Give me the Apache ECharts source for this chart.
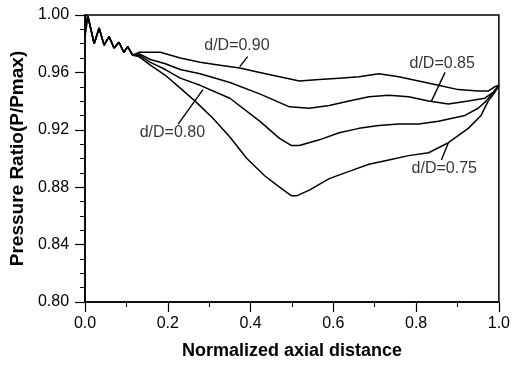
<!DOCTYPE html>
<html>
<head>
<meta charset="utf-8">
<script src="https://cdn.jsdelivr.net/npm/echarts@6/dist/echarts.min.js"></script>
<style>
  html, body { margin: 0; padding: 0; background: #fff; }
  #chart { width: 513px; height: 365px; }
</style>
</head>
<body>
<div id="chart"></div>
<script>
const FONT = "'Liberation Sans', Arial, sans-serif";

// shared saw-tooth at the inlet, x = 0.007 .. 0.115
const zigzag = [
  [0.007, 0.999], [0.022, 0.980], [0.034, 0.991], [0.046, 0.979], [0.058, 0.985],
  [0.070, 0.977], [0.082, 0.981], [0.094, 0.974], [0.103, 0.978], [0.115, 0.972]
];

const curve90 = [
  [0.0, 1.0], ...zigzag,
  [0.13, 0.974], [0.182, 0.974], [0.23, 0.970], [0.278, 0.967], [0.326, 0.965],
  [0.374, 0.963], [0.422, 0.960], [0.47, 0.957], [0.518, 0.954], [0.566, 0.955],
  [0.614, 0.956], [0.662, 0.957], [0.71, 0.959], [0.758, 0.957], [0.806, 0.954],
  [0.854, 0.951], [0.902, 0.948], [0.95, 0.947], [0.974, 0.947], [0.99, 0.950], [1.0, 0.951]
];
const curve85 = [
  [0.0, 0.995], ...zigzag,
  [0.13, 0.973], [0.158, 0.969], [0.194, 0.966], [0.23, 0.962], [0.278, 0.959],
  [0.35, 0.953], [0.422, 0.945], [0.494, 0.936], [0.542, 0.935], [0.59, 0.937],
  [0.638, 0.940], [0.686, 0.943], [0.734, 0.944], [0.782, 0.943], [0.83, 0.940],
  [0.878, 0.938], [0.926, 0.940], [0.966, 0.942], [0.986, 0.946], [1.0, 0.950]
];
const curve80 = [
  [0.0, 0.990], ...zigzag,
  [0.13, 0.972], [0.158, 0.967], [0.194, 0.962], [0.23, 0.956], [0.278, 0.951],
  [0.35, 0.942], [0.422, 0.926], [0.47, 0.914], [0.499, 0.909], [0.518, 0.909],
  [0.566, 0.913], [0.614, 0.918], [0.662, 0.921], [0.71, 0.923], [0.758, 0.924],
  [0.806, 0.924], [0.854, 0.926], [0.918, 0.930], [0.95, 0.935], [0.969, 0.940],
  [0.986, 0.946], [1.0, 0.951]
];
const curve75 = [
  [0.0, 0.985], ...zigzag,
  [0.13, 0.971], [0.158, 0.965], [0.194, 0.958], [0.23, 0.949], [0.266, 0.940],
  [0.309, 0.928], [0.35, 0.915], [0.391, 0.900], [0.434, 0.888], [0.47, 0.880],
  [0.499, 0.874], [0.511, 0.874], [0.542, 0.878], [0.59, 0.886], [0.638, 0.891],
  [0.686, 0.896], [0.734, 0.899], [0.782, 0.902], [0.83, 0.904], [0.878, 0.911],
  [0.926, 0.921], [0.957, 0.930], [0.974, 0.940], [0.99, 0.946], [1.0, 0.951]
];

// curve labels and their leader lines, in data units
const labelNames = ["d/D=0.90", "d/D=0.85", "d/D=0.80", "d/D=0.75"];
const labelPos = [[0.367, 0.979], [0.863, 0.966], [0.211, 0.918], [0.868, 0.893]];
const leaders = [
  [[0.393, 0.971], [0.374, 0.964]],
  [[0.870, 0.960], [0.837, 0.940]],
  [[0.225, 0.924], [0.285, 0.948]],
  [[0.861, 0.899], [0.878, 0.911]]
];

const xTicks = { min: 0, max: 1, interval: 0.2 };
const yTicks = { min: 0.8, max: 1.0, interval: 0.04 };

const chart = echarts.init(document.getElementById("chart"));

const curveSeries = [curve90, curve85, curve80, curve75].map((d) => ({
  type: "line",
  data: d,
  showSymbol: false,
  silent: true,
  lineStyle: { color: "#000", width: 1.5 },
}));

chart.setOption({
  animation: false,
  backgroundColor: "#fff",
  grid: {
    left: 84, right: 12, top: 15, bottom: 59,
    show: true, borderColor: "#000", borderWidth: 1.5, backgroundColor: "transparent",
  },
  xAxis: {
    type: "value",
    min: xTicks.min, max: xTicks.max, interval: xTicks.interval,
    name: "Normalized axial distance",
    nameLocation: "middle",
    nameGap: 40,
    nameTextStyle: { fontFamily: FONT, fontWeight: "bold", fontSize: 18, color: "#000" },
    axisLine: { show: true, lineStyle: { color: "#000", width: 1.5 } },
    axisTick: { show: true, length: 10, lineStyle: { color: "#000", width: 1.2 } },
    minorTick: { show: true, splitNumber: 2, length: 5, lineStyle: { color: "#000", width: 1 } },
    axisLabel: {
      fontFamily: FONT, fontSize: 16, color: "#000", margin: 14,
      formatter: (v) => v.toFixed(1),
    },
    splitLine: { show: false },
  },
  yAxis: {
    type: "value",
    min: yTicks.min, max: yTicks.max, interval: yTicks.interval,
    name: "Pressure Ratio(P/Pmax)",
    nameLocation: "middle",
    nameGap: 58,
    nameTextStyle: { fontFamily: FONT, fontWeight: "bold", fontSize: 19, color: "#000" },
    axisLine: { show: true, lineStyle: { color: "#000", width: 1.5 } },
    axisTick: { show: true, length: 10, lineStyle: { color: "#000", width: 1.2 } },
    minorTick: { show: true, splitNumber: 4, length: 5, lineStyle: { color: "#000", width: 1 } },
    axisLabel: {
      fontFamily: FONT, fontSize: 16, color: "#000", margin: 16,
      formatter: (v) => v.toFixed(2),
    },
    splitLine: { show: false },
  },
  series: [
    ...curveSeries,
    {
      type: "lines",
      coordinateSystem: "cartesian2d",
      silent: true,
      data: leaders.map((c) => ({ coords: c })),
      lineStyle: { color: "#000", width: 1.4, opacity: 1 },
    },
    {
      type: "scatter",
      silent: true,
      symbolSize: 0,
      data: labelPos.map((p, i) => ({ value: p, name: labelNames[i] })),
      label: {
        show: true,
        position: "inside",
        formatter: (p) => p.name,
        fontFamily: FONT,
        fontSize: 16,
        color: "#000",
      },
    },
  ],
});
</script>
</body>
</html>
